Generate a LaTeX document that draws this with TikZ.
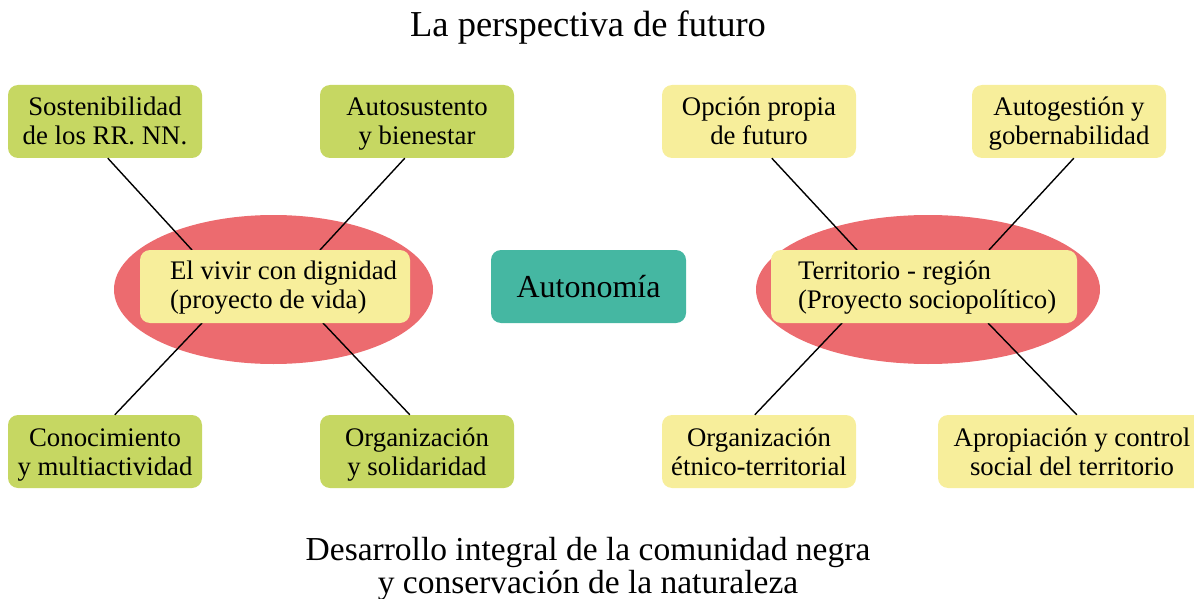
\documentclass[tikz,border=0pt]{standalone}
\usepackage{fontspec}
\setmainfont{Liberation Serif}
\usetikzlibrary{calc,shapes.geometric}
\definecolor{boxgreen}{RGB}{198,215,98}
\definecolor{boxyellow}{RGB}{247,238,155}
\definecolor{ellred}{RGB}{236,107,111}
\definecolor{autoteal}{RGB}{69,183,162}
\newcommand{\topstrut}{\rule{0pt}{25pt}}
\newcommand{\botstrut}{\rule[-7pt]{0pt}{7pt}}
\begin{document}
\begin{tikzpicture}[x=1pt,y=-1pt,
  box/.style={rounded corners=10pt, minimum width=194pt, minimum height=73pt, inner sep=0pt, align=center, font=\fontsize{26.8}{29}\selectfont},
  gbox/.style={box, fill=boxgreen},
  ybox/.style={box, fill=boxyellow},
  inbox/.style={rounded corners=10pt, minimum height=73pt, inner sep=0pt, fill=boxyellow},
  intext/.style={anchor=west, align=left, inner sep=0pt, font=\fontsize{26.8}{29}\selectfont},
  oval/.style={ellipse, fill=ellred, inner sep=0pt},
  conn/.style={draw=black, line width=1.4pt},
  head/.style={anchor=base, inner sep=0pt, font=\fontsize{36.5}{40}\selectfont},
  foot/.style={anchor=base, inner sep=0pt, font=\fontsize{33.5}{36}\selectfont}]
\useasboundingbox (0,0) rectangle (1194,599);

% title
\node[head] (title) at (588,37) {La perspectiva de futuro};

% ellipses
\node[oval, minimum width=319pt, minimum height=149pt] (ellL) at (273.5,289.5) {};
\node[oval, minimum width=344pt, minimum height=149pt] (ellR) at (928,289.5) {};

% outer boxes
\node[gbox] (sos) at (105,121.5) {\topstrut Sostenibilidad\\de los RR. NN.\botstrut};
\node[gbox] (aut) at (417,121.5) {\topstrut Autosustento\\y bienestar\botstrut};
\node[gbox] (con) at (105,451.5) {\topstrut Conocimiento\\y multiactividad\botstrut};
\node[gbox] (org) at (417,451.5) {\topstrut Organización\\y solidaridad\botstrut};
\node[ybox] (opc) at (759,121.5) {\topstrut Opción propia\\de futuro\botstrut};
\node[ybox] (autg) at (1069,121.5) {\topstrut Autogestión y\\gobernabilidad\botstrut};
\node[ybox] (orge) at (759,451.5) {\topstrut Organización\\étnico-territorial\botstrut};
\node[ybox, minimum width=268pt] (apro) at (1072,451.5) {\topstrut Apropiación y control\\social del territorio\botstrut};

% connectors (drawn over ellipses, under inner boxes)
\coordinate (vivNW) at (140,250);
\coordinate (vivSW) at (140,323);
\coordinate (terNW) at (771,250);
\coordinate (terSW) at (771,323);
\draw[conn] ($(sos.south west)+(100,0)$) -- ($(vivNW)+(52,0)$);
\draw[conn] ($(aut.south west)+(85,0)$) -- ($(vivNW)+(180,0)$);
\draw[conn] ($(vivSW)+(62,0)$) -- ($(con.north west)+(107,0)$);
\draw[conn] ($(vivSW)+(183,0)$) -- ($(org.north west)+(90,0)$);
\draw[conn] ($(opc.south west)+(110,0)$) -- ($(terNW)+(86,0)$);
\draw[conn] ($(autg.south west)+(102,0)$) -- ($(terNW)+(218,0)$);
\draw[conn] ($(terSW)+(71,0)$) -- ($(orge.north west)+(93,0)$);
\draw[conn] ($(terSW)+(217,0)$) -- ($(apro.north west)+(139,0)$);

% inner boxes
\node[inbox, minimum width=270pt] (viv) at (275,286.5) {};
\node[intext] (vivtext) at ($(viv.west)+(30,-1.5)$) {\topstrut El vivir con dignidad\\(proyecto de vida)\botstrut};
\node[inbox, minimum width=306pt] (ter) at (924,286.5) {};
\node[intext] (tertext) at ($(ter.west)+(27,-1.5)$) {\topstrut Territorio - región\\(Proyecto sociopolítico)\botstrut};

% center
\node[rounded corners=10pt, fill=autoteal, minimum width=195pt, minimum height=73pt, inner sep=0pt, font=\fontsize{32}{36}\selectfont] (auton) at (588.5,286.5) {Autonomía};

% footer
\node[foot] (foot1) at (588,560) {Desarrollo integral de la comunidad negra};
\node[foot] (foot2) at (588,593) {y conservación de la naturaleza};
\end{tikzpicture}
\end{document}
